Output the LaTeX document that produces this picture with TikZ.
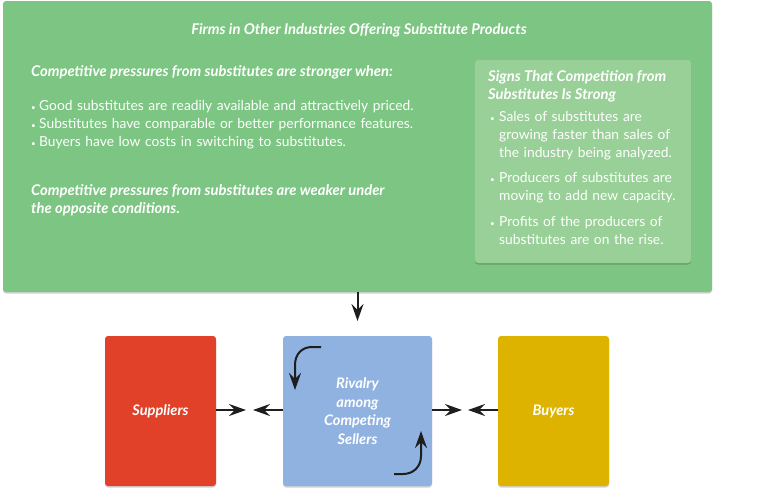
\documentclass[tikz,border=0pt]{standalone}
\usepackage{fontspec}
\setmainfont{Lato}
\usepackage{tikz}
\usetikzlibrary{arrows.meta}
\usetikzlibrary{shadows}
\definecolor{subgreen}{HTML}{7DC582}
\definecolor{signgreen}{HTML}{98D097}
\definecolor{supred}{HTML}{E04128}
\definecolor{rivblue}{HTML}{8FB2E0}
\definecolor{buyyellow}{HTML}{DDB300}
\definecolor{arrowink}{HTML}{1E1E1E}
\newcommand{\bul}[2][8pt]{\par\hangindent=#1\hangafter=1\noindent\makebox[#1][l]{\footnotesize •}#2\par}
\tikzset{
  panel/.style={rounded corners=3pt, inner sep=0pt,
    drop shadow={shadow xshift=0pt, shadow yshift=-1.5pt, opacity=0.18, fill=black}},
  head/.style={text=white, inner sep=0pt, font=\fontsize{14.8}{18}\selectfont\bfseries\itshape},
  body/.style={text=white, inner sep=0pt, font=\fontsize{13.8}{18}\selectfont},
  force/.style={panel, minimum height=150pt, text=white, align=center,
    font=\fontsize{14.6}{18.5}\selectfont\bfseries\itshape},
  push/.style={-{Stealth[length=17pt,width=12pt,inset=6pt]}, line width=2pt, draw=arrowink},
}
\begin{document}
\begin{tikzpicture}[x=1pt, y=-1pt]
  \useasboundingbox (0,0) rectangle (758,496);
  % substitutes panel
  \node[panel, fill=subgreen, minimum width=709pt, minimum height=291pt] (subs) at (357.5,146.5) {};
  \node[head] (title) at (359,30) {Firms in Other Industries Offering Substitute Products};
  \node[head, anchor=west] (strong) at (31,72) {Competitive pressures from substitutes are stronger when:};
  \node[body, anchor=north west, text width=420pt] (pressures) at (31,92)
    {\bul{Good substitutes are readily available and attractively priced.}
     \bul{Substitutes have comparable or better performance features.}
     \bul{Buyers have low costs in switching to substitutes.}};
  \node[head, anchor=north west, align=left] (weak) at (31,184)
    {Competitive pressures from substitutes are weaker under\\the opposite conditions.};
  \node[panel, fill=signgreen, drop shadow={opacity=0}, minimum width=216pt, minimum height=203pt] (signs) at (583,161.5) {};
  \node[head, anchor=north west, align=left] (signhead) at (488,70)
    {Signs That Competition from\\Substitutes Is Strong};
  \node[body, anchor=north west, text width=195pt] (signlist) at (490,103)
    {\bul[9pt]{Sales of substitutes are\newline growing faster than sales of\newline the industry being analyzed.}\vspace{7pt}
     \bul[9pt]{Producers of substitutes are\newline moving to add new capacity.}\vspace{8pt}
     \bul[9pt]{Profits of the producers of\newline substitutes are on the rise.}};

  % the three forces
  \node[force, fill=supred, minimum width=111pt] (suppliers) at (160.5,411) {Suppliers};
  \node[force, fill=rivblue, minimum width=149pt] (rivalry) at (357.5,411) {Rivalry\\among\\Competing\\Sellers};
  \node[force, fill=buyyellow, minimum width=111pt] (buyers) at (553.5,411) {Buyers};

  \coordinate (down) at (357.5,321);
  \coordinate (suptip) at (246,410);
  \coordinate (rivtipl) at (253,410);
  \coordinate (rivtipr) at (462,410);
  \coordinate (buytip) at (468,410);
  \draw[push] (subs.south -| down) -- (down);
  \draw[push] (suppliers.east |- suptip) -- (suptip);
  \draw[push] (rivalry.west |- rivtipl) -- (rivtipl);
  \draw[push] (rivalry.east |- rivtipr) -- (rivtipr);
  \draw[push] (buyers.west |- buytip) -- (buytip);

  % rivalry loop arrows
  \coordinate (loopa) at (321,347);
  \coordinate (loopb) at (394,474);
  \draw[push] (loopa) -- (312,347) .. controls (302,347) and (295,354) .. (295,365) -- (295,390);
  \draw[push] (loopb) -- (403,474) .. controls (413,474) and (421,467) .. (421,456) -- (421,431);
\end{tikzpicture}
\end{document}
